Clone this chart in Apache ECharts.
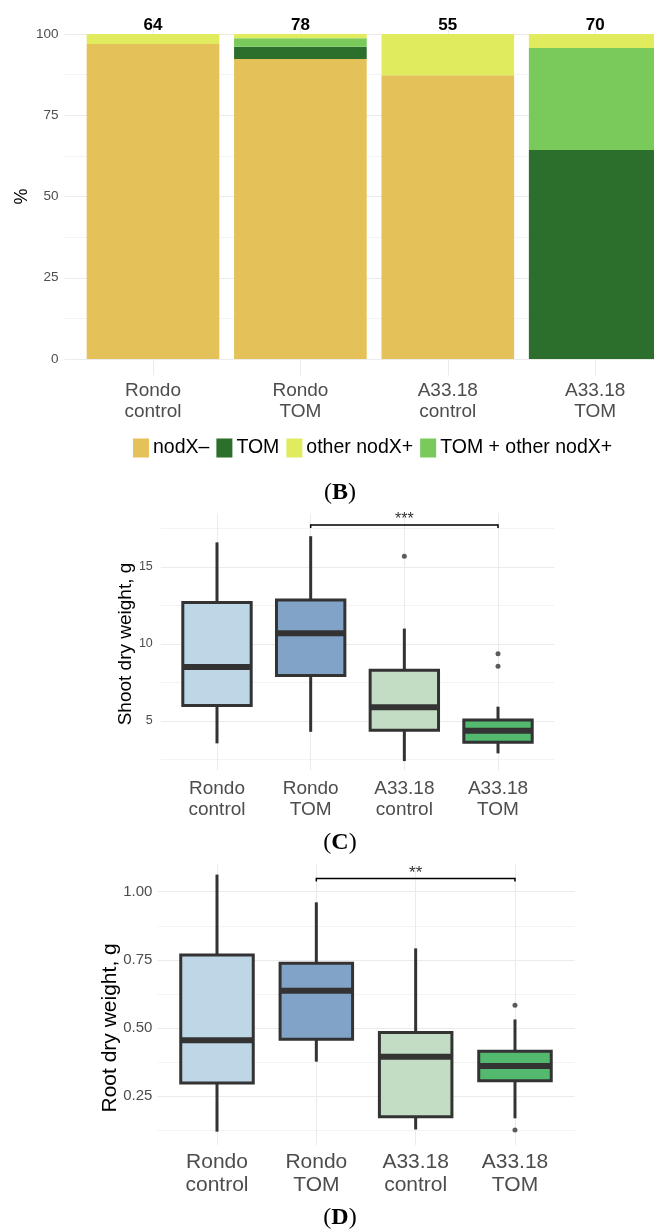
<!DOCTYPE html>
<html>
<head>
<meta charset="utf-8">
<title>Nodulation and dry weight</title>
<script src="https://cdn.jsdelivr.net/npm/echarts@6/dist/echarts.min.js"></script>
<style>
  html, body { margin: 0; padding: 0; background: #ffffff; }
  #chart { width: 654px; height: 1232px; }
</style>
</head>
<body>
<div id="chart"></div>
<script>
// ---- data ----
const categories = ['Rondo\ncontrol', 'Rondo\nTOM', 'A33.18\ncontrol', 'A33.18\nTOM'];

// (B) nodule composition, % of nodules per variant
const nodXNeg      = [96.9, 92.3, 87.3, 0];
const tomOnly      = [0, 3.8, 0, 64.3];
const tomPlusOther = [0, 2.6, 0, 31.4];
const otherNodX    = [3.1, 1.3, 12.7, 4.3];
const noduleCounts = [64, 78, 55, 70];

// (C) shoot dry weight, g: [lower whisker, Q1, median, Q3, upper whisker]
const shootStats = [
  [3.55, 6.0, 8.5, 12.7, 16.6],
  [4.3, 7.95, 10.7, 12.85, 17.0],
  [2.4, 4.4, 5.9, 8.3, 11.0],
  [2.9, 3.62, 4.37, 5.06, 5.93]
];
const shootOutliers = [[2, 15.7], [3, 9.37], [3, 8.55]];
const shootSignif = [[1, 3, 17.73, '***']];

// (D) root dry weight, g
const rootStats = [
  [0.119, 0.298, 0.455, 0.768, 1.063],
  [0.376, 0.458, 0.636, 0.737, 0.961],
  [0.127, 0.174, 0.394, 0.483, 0.792],
  [0.168, 0.306, 0.360, 0.414, 0.531]
];
const rootOutliers = [[3, 0.583], [3, 0.125]];
const rootSignif = [[1, 3, 1.049, '**']];

// ---- styling ----
const SANS = "'Liberation Sans', Arial, sans-serif";
const SERIF = "'Liberation Serif', 'Times New Roman', serif";
const boxFills = ['#bdd7e6', '#81a3c8', '#c2ddc3', '#53b96f'];
const INK = '#333333';
const GRID_MAJOR = { color: '#ebebeb', width: 1 };
const GRID_MINOR = { color: '#f3f3f3', width: 1 };

// panel geometry: first category centre, band width, panel data range and pixel range
const panelB = { c1: 153, band: 147.4, yMin: -5, yMax: 105, top: 17.75, bottom: 375.25 };
const panelC = { c1: 217, band: 93.67, yMin: 1.8, yMax: 18.5, top: 513.1, bottom: 770.3 };
const panelD = { c1: 217, band: 99.33, yMin: 0.07, yMax: 1.10, top: 864.5, bottom: 1145.0 };

function px(P, v) {
  return P.bottom - (v - P.yMin) / (P.yMax - P.yMin) * (P.bottom - P.top);
}

const grids = [], xAxes = [], yAxes = [], series = [];

function makeGrid(left, width, top, height) {
  return { left, width, top, height, containLabel: false, outerBoundsMode: 'none' };
}

function addPanel(P, o) {
  // horizontal grid lines, tick labels and axis title
  const g1 = grids.length;
  grids.push(makeGrid(P.c1 - 0.6 * P.band, 4.2 * P.band, px(P, o.gMax), px(P, o.gMin) - px(P, o.gMax)));
  xAxes.push({ gridIndex: g1, type: 'value', show: false, min: 0, max: 1 });
  yAxes.push({
    gridIndex: g1, type: 'value', min: o.gMin, max: o.gMax, interval: o.step,
    name: o.title, nameLocation: 'middle', nameRotate: 90, nameGap: o.nameGap, nameMoveOverlap: false,
    nameTextStyle: { color: '#000', fontSize: o.titleSize, fontFamily: SANS },
    axisLine: { show: false }, axisTick: { show: false },
    axisLabel: { color: '#4d4d4d', fontSize: o.tickSize, fontFamily: SANS, margin: o.tickMargin,
                 showMinLabel: o.showMin, showMaxLabel: o.showMax,
                 formatter: v => o.digits ? v.toFixed(o.digits) : String(v) },
    splitLine: { show: true, showMinLine: o.showMin, showMaxLine: o.showMax, lineStyle: GRID_MAJOR },
    minorTick: { show: false, splitNumber: 2 },
    minorSplitLine: { show: true, lineStyle: GRID_MINOR }
  });
  // vertical grid lines at category centres
  const g2 = grids.length;
  grids.push(makeGrid(P.c1 - P.band, 5 * P.band, P.top, P.bottom - P.top));
  xAxes.push({ gridIndex: g2, type: 'value', min: 0, max: 5, interval: 1,
               axisLine: { show: false }, axisTick: { show: false }, axisLabel: { show: false },
               splitLine: { show: true, showMinLine: false, showMaxLine: false, lineStyle: GRID_MAJOR } });
  yAxes.push({ gridIndex: g2, type: 'value', show: false, min: 0, max: 1 });
  // data grid
  const g3 = grids.length;
  grids.push(makeGrid(P.c1 - P.band / 2, 4 * P.band, P.top, P.bottom - P.top));
  xAxes.push({ gridIndex: g3, type: 'category', data: categories,
               axisLine: { show: false, onZero: false }, axisTick: { show: false }, splitLine: { show: false },
               axisLabel: { color: '#4d4d4d', fontSize: o.catSize, lineHeight: o.catLine,
                            fontFamily: SANS, margin: o.catMargin } });
  yAxes.push({ gridIndex: g3, type: 'value', show: false, min: P.yMin, max: P.yMax });
  return g3;
}

// ---- (B) stacked composition bars ----
const axB = addPanel(panelB, { gMin: 0, gMax: 100, step: 25, title: '%', nameGap: 34, titleSize: 18,
  tickSize: 13.5, tickMargin: 6, showMin: true, showMax: true, digits: 0,
  catSize: 19, catLine: 21, catMargin: 5 });

const stackParts = [
  { name: 'nodX–', data: nodXNeg, color: '#e5c15a' },
  { name: 'TOM', data: tomOnly, color: '#2c6e2b' },
  { name: 'TOM + other nodX+', data: tomPlusOther, color: '#7ac95b' },
  { name: 'other nodX+', data: otherNodX, color: '#e0ec5e' }
];
stackParts.forEach((s, i) => {
  series.push({
    type: 'bar', name: s.name, stack: 'nodules', data: s.data,
    xAxisIndex: axB, yAxisIndex: axB, barWidth: '90%',
    itemStyle: { color: s.color },
    label: i === stackParts.length - 1 ? {
      show: true, position: 'top', distance: 0,
      formatter: p => String(noduleCounts[p.dataIndex]),
      color: '#000', fontWeight: 'bold', fontSize: 17, fontFamily: SANS
    } : { show: false }
  });
});

// ---- box plots ----
function boxSeries(ax, stats) {
  return {
    type: 'custom', xAxisIndex: ax, yAxisIndex: ax, z: 3,
    data: stats.map((s, i) => [i, ...s]),
    encode: { x: 0, y: [1, 2, 3, 4, 5] },
    renderItem: (params, api) => {
      const i = api.value(0);
      const lo = api.coord([i, api.value(1)]);
      const q1 = api.coord([i, api.value(2)]);
      const md = api.coord([i, api.value(3)]);
      const q3 = api.coord([i, api.value(4)]);
      const hi = api.coord([i, api.value(5)]);
      const bw = api.size([1, 0])[0] * 0.73;
      const x = lo[0];
      const stroke = { stroke: INK, lineWidth: 3 };
      return {
        type: 'group',
        children: [
          { type: 'line', shape: { x1: x, y1: lo[1], x2: x, y2: q1[1] }, style: stroke },
          { type: 'line', shape: { x1: x, y1: q3[1], x2: x, y2: hi[1] }, style: stroke },
          { type: 'rect', shape: { x: x - bw / 2, y: q3[1], width: bw, height: q1[1] - q3[1] },
            style: { fill: boxFills[i], stroke: INK, lineWidth: 3 } },
          { type: 'line', shape: { x1: x - bw / 2, y1: md[1], x2: x + bw / 2, y2: md[1] },
            style: { stroke: INK, lineWidth: 6 } }
        ]
      };
    }
  };
}

function outlierSeries(ax, pts) {
  return { type: 'scatter', xAxisIndex: ax, yAxisIndex: ax, z: 4, data: pts,
           symbol: 'circle', symbolSize: 5, itemStyle: { color: INK } };
}

function signifSeries(ax, marks, textSize) {
  return {
    type: 'custom', xAxisIndex: ax, yAxisIndex: ax, z: 5, data: marks,
    encode: { x: [0, 1], y: 2 },
    renderItem: (params, api) => {
      const a = api.coord([api.value(0), api.value(2)]);
      const b = api.coord([api.value(1), api.value(2)]);
      const label = marks[params.dataIndex][3];
      return {
        type: 'group',
        children: [
          { type: 'polyline',
            shape: { points: [[a[0], a[1] + 3], [a[0], a[1]], [b[0], b[1]], [b[0], b[1] + 3]] },
            style: { stroke: '#000', lineWidth: 1.5, fill: null } },
          { type: 'text', x: (a[0] + b[0]) / 2, y: a[1] + 3,
            style: { text: label, align: 'center', verticalAlign: 'bottom',
                     fill: INK, fontSize: textSize, fontFamily: SANS } }
        ]
      };
    }
  };
}

// ---- (C) shoot dry weight ----
const axC = addPanel(panelC, { gMin: 0, gMax: 20, step: 5, title: 'Shoot dry weight, g', nameGap: 26,
  titleSize: 19, tickSize: 12.5, tickMargin: 8, showMin: false, showMax: false, digits: 0,
  catSize: 19, catLine: 21, catMargin: 8 });
series.push(boxSeries(axC, shootStats));
series.push(outlierSeries(axC, shootOutliers));
series.push(signifSeries(axC, shootSignif, 16));

// ---- (D) root dry weight ----
const axD = addPanel(panelD, { gMin: 0, gMax: 1, step: 0.25, title: 'Root dry weight, g', nameGap: 37,
  titleSize: 21, tickSize: 15, tickMargin: 5, showMin: false, showMax: true, digits: 2,
  catSize: 21, catLine: 23, catMargin: 6 });
series.push(boxSeries(axD, rootStats));
series.push(outlierSeries(axD, rootOutliers));
series.push(signifSeries(axD, rootSignif, 17));

// panel captions
function caption(letter, y) {
  return {
    type: 'text', x: 340, y: y,
    style: {
      text: '{p|(}{b|' + letter + '}{p|)}', align: 'center', verticalAlign: 'middle',
      rich: {
        p: { fontFamily: SERIF, fontSize: 24, fill: '#000', fontWeight: 'normal' },
        b: { fontFamily: SERIF, fontSize: 24, fill: '#000', fontWeight: 'bold' }
      }
    }
  };
}

const chart = echarts.init(document.getElementById('chart'), null, { renderer: 'canvas' });
chart.setOption({
  animation: false,
  backgroundColor: '#ffffff',
  textStyle: { fontFamily: SANS },
  grid: grids,
  xAxis: xAxes,
  yAxis: yAxes,
  legend: {
    data: ['nodX–', 'TOM', 'other nodX+', 'TOM + other nodX+'],
    left: 133, top: 438, padding: 0, itemWidth: 16, itemHeight: 19, itemGap: 7,
    icon: 'rect', selectedMode: false,
    textStyle: { color: '#000', fontSize: 19.5, fontFamily: SANS, padding: [0, 0, 0, -1] }
  },
  graphic: [caption('B', 493), caption('C', 843), caption('D', 1218)],
  series: series
});
</script>
</body>
</html>
